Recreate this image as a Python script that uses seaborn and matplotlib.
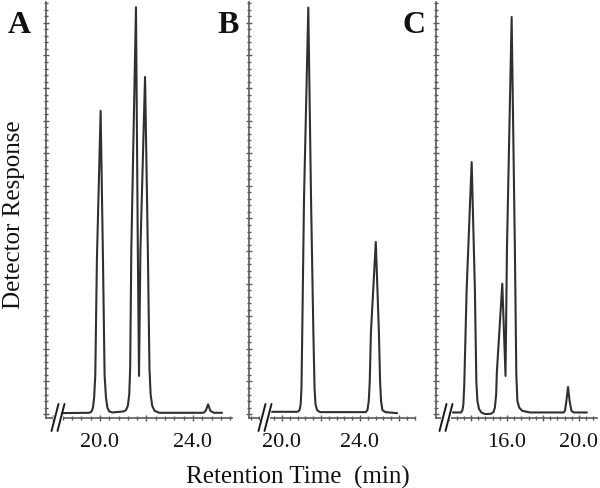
import numpy as np
import pandas as pd
import matplotlib
matplotlib.use("Agg")
import matplotlib.pyplot as plt
import seaborn as sns
from matplotlib.ticker import FixedLocator, FixedFormatter, MultipleLocator

# ---------------- data ----------------
panel_labels = ["A", "B", "C"]

time_a = [18.37, 19.55, 19.64, 19.70, 19.75, 19.80, 19.87, 20.03, 20.13, 20.20,
          20.26, 20.32, 20.40, 20.55, 21.00, 21.12, 21.20, 21.26, 21.30, 21.35,
          21.55, 21.63, 21.68, 21.74, 21.94, 22.06, 22.13, 22.18, 22.25, 22.35,
          22.55, 24.45, 24.55, 24.65, 24.75, 24.90, 25.25]
resp_a = [0.3, 0.4, 0.8, 2.0, 5.0, 12.0, 47.5, 93.0, 47.5, 12.0,
          5.0, 2.0, 0.8, 0.5, 0.8, 1.2, 2.5, 6.0, 14.0, 50.6,
          124.8, 50.0, 11.7, 50.0, 103.4, 50.6, 14.0, 6.0, 2.5, 1.0,
          0.4, 0.4, 1.0, 3.0, 1.0, 0.4, 0.4]

time_b = [19.49, 20.80, 20.90, 20.96, 21.00, 21.04, 21.13, 21.35, 21.49, 21.61,
          21.67, 21.72, 21.80, 21.95, 24.30, 24.38, 24.45, 24.50, 24.56, 24.81,
          24.97, 25.03, 25.08, 25.15, 25.30, 25.90]
resp_b = [0.7, 0.7, 1.2, 3.0, 8.0, 25.0, 66.0, 124.7, 66.0, 25.0,
          8.0, 3.0, 1.2, 0.6, 0.6, 1.2, 4.0, 10.0, 25.0, 52.8,
          25.0, 10.0, 4.0, 1.2, 0.6, 0.3]

time_c = [13.00, 13.45, 13.53, 13.58, 13.63, 13.76, 14.04, 14.22, 14.30, 14.36,
          14.45, 14.60, 14.80, 15.10, 15.25, 15.33, 15.40, 15.44, 15.74, 15.92,
          16.00, 16.26, 16.44, 16.52, 16.58, 16.68, 16.85, 17.28, 19.15, 19.22,
          19.30, 19.39, 19.48, 19.58, 19.70, 20.44]
resp_c = [0.5, 0.5, 1.2, 3.0, 9.0, 38.0, 77.3, 38.0, 10.0, 4.0,
          1.5, 0.4, 0.0, 0.1, 0.6, 2.0, 6.0, 12.9, 40.0, 11.7,
          50.6, 121.8, 50.6, 12.0, 4.0, 2.0, 1.0, 0.5, 0.5, 1.0,
          4.0, 8.3, 4.0, 1.0, 0.5, 0.5]

x_ticks_a = [18, 20, 22, 24]
x_ticklabels_a = ["", "20.0", "", "24.0"]
x_ticks_b = [20, 22, 24, 26]
x_ticklabels_b = ["20.0", "", "24.0", ""]
x_ticks_c = [14, 16, 18, 20]
x_ticklabels_c = ["", "16.0", "", "20.0"]

xlims = [(17.68, 25.68), (18.31, 26.82), (12.06, 21.0)]
y_ticks = list(range(0, 121, 10))

# ---------------- style ----------------
sns.set_theme(style="ticks")
plt.rcParams['font.family'] = ['Liberation Serif', 'DejaVu Serif']

W, H = 600, 489
fig = plt.figure(figsize=(W / 100, H / 100), dpi=100)

axes_px = [(46, 186), (249, 166), (436, 161)]   # left, width in pixels
ax_bottom_px, ax_top_px = 419, 3
break_px = [58, 265, 446]
letter_px = [8, 217, 402]

series = [(time_a, resp_a), (time_b, resp_b), (time_c, resp_c)]
ticks = [(x_ticks_a, x_ticklabels_a), (x_ticks_b, x_ticklabels_b), (x_ticks_c, x_ticklabels_c)]

axis_col = "#5a5a5a"
line_col = "#303030"

for i in range(3):
    left, width = axes_px[i]
    ax = fig.add_axes([left / W, (H - ax_bottom_px) / H, width / W,
                       (ax_bottom_px - ax_top_px) / H])
    df = pd.DataFrame({"t": series[i][0], "r": series[i][1]})
    sns.lineplot(data=df, x="t", y="r", ax=ax, sort=False, estimator=None,
                 color=line_col, linewidth=1.5)
    ax.set_xlim(*xlims[i])
    ax.set_ylim(-1.2, 126.4)
    ax.set_xlabel("")
    ax.set_ylabel("")
    for s in ["top", "right"]:
        ax.spines[s].set_visible(False)
    for s in ["left", "bottom"]:
        ax.spines[s].set_color(axis_col)
        ax.spines[s].set_linewidth(1.2)
    xt, xl = ticks[i]
    ax.xaxis.set_major_locator(FixedLocator(xt))
    ax.xaxis.set_major_formatter(FixedFormatter(xl))
    ax.xaxis.set_minor_locator(MultipleLocator(0.4))
    ax.yaxis.set_major_locator(FixedLocator(y_ticks))
    ax.yaxis.set_minor_locator(MultipleLocator(2))
    ax.set_yticklabels([])
    ax.tick_params(axis="both", which="major", direction="inout", length=4,
                   width=1.0, color=axis_col)
    ax.tick_params(axis="both", which="minor", direction="inout", length=2.5,
                   width=1.0, color=axis_col)
    ax.tick_params(axis="x", labelsize=16, pad=8, labelcolor="#111111")

    # axis break marks "//"
    xc = (break_px[i] - left) / width
    dx = 3.0 / width
    hx = 3.5 / width
    y0 = -13.0 / (ax_bottom_px - ax_top_px)
    y1 = 14.0 / (ax_bottom_px - ax_top_px)
    ax.plot([xc - dx, xc + dx], [0, 0], transform=ax.transAxes, color="white",
            linewidth=3, clip_on=False, zorder=5)
    for off in (-dx, dx):
        ax.plot([xc + off - hx, xc + off + hx], [y0, y1], transform=ax.transAxes,
                color="#1a1a1a", linewidth=1.4, clip_on=False, zorder=6)

    fig.text(letter_px[i] / W, 1 - 33 / H, panel_labels[i], fontsize=23,
             fontweight="bold", ha="left", va="baseline", color="#111111")

fig.text(14 / W, 1 - 215 / H, "Detector Response", rotation=90, fontsize=18,
         ha="center", va="center", color="#111111")
fig.text(298 / W, 1 - 477 / H, "Retention Time  (min)", fontsize=18,
         ha="center", va="center", color="#111111")

fig.savefig("out.png", dpi=100)
